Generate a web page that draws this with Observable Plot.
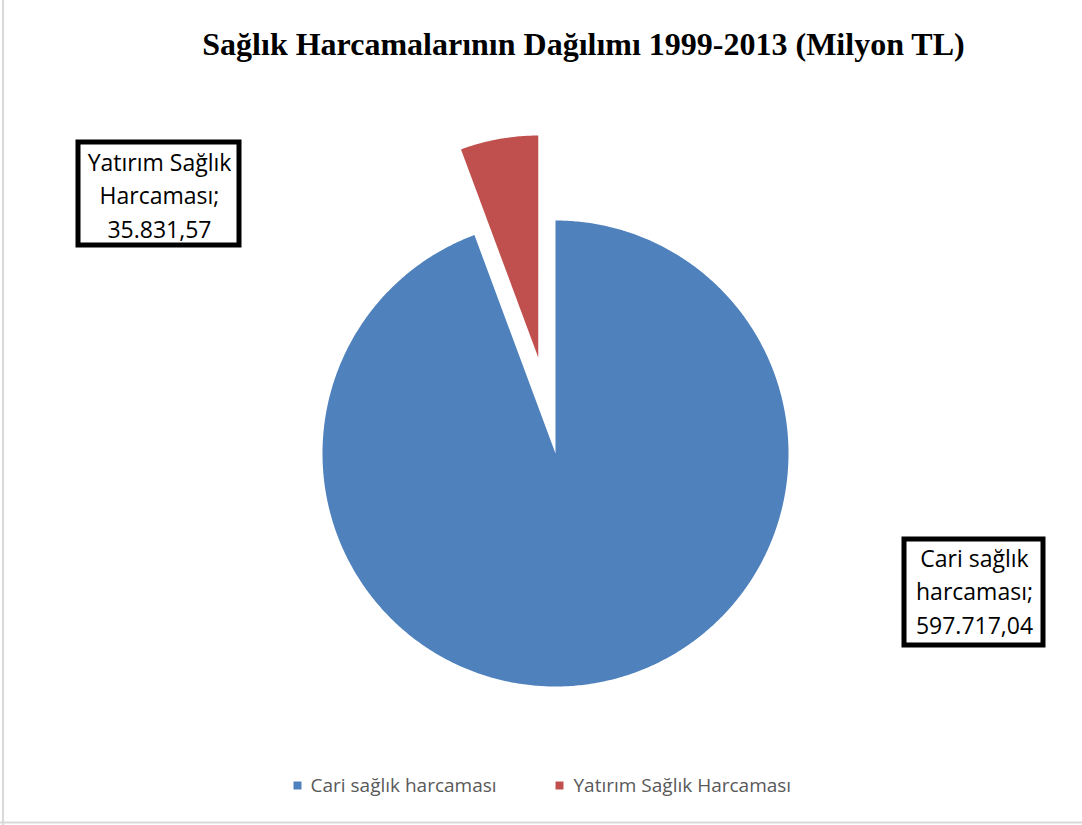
<!DOCTYPE html>
<html>
<head>
<meta charset="utf-8">
<script src="https://cdn.jsdelivr.net/npm/d3@7"></script>
<script src="https://cdn.jsdelivr.net/npm/@observablehq/plot@0.6"></script>
<style>
  html, body { margin: 0; padding: 0; background: #fff; }
  #chart svg { display: block; }
</style>
</head>
<body>
<div id="chart"></div>
<script>
// ---- data ----
const categories = ["Cari sağlık harcaması", "Yatırım Sağlık Harcaması"];
const values = [597717.04, 35831.57];
const labelNames = ["Cari sağlık\nharcaması;", "Yatırım Sağlık\nHarcaması;"];
const title = "Sağlık Harcamalarının Dağılımı 1999-2013 (Milyon TL)";

// ---- layout ----
const W = 1082, H = 825;
const cx = 555, cy = 453;
const radii = [233, 222];
const explode = [0, 97.5];
const colors = ["#4F81BD", "#C0504D"];

const trFormat = d3.formatLocale({decimal: ",", thousands: ".", grouping: [3], currency: ["", ""]}).format(",.2f");

const total = d3.sum(values);
const pie = [];
let a0 = 0;
values.forEach((v, i) => {
  const a1 = a0 + v / total * 2 * Math.PI;
  const mid = (a0 + a1) / 2;
  const ox = cx + explode[i] * Math.sin(mid);
  const oy = cy - explode[i] * Math.cos(mid);
  pie.push({cat: categories[i], x: ox, y: oy});
  const n = Math.max(2, Math.ceil((a1 - a0) / (Math.PI / 360)));
  for (let k = 0; k <= n; k++) {
    const a = a0 + (a1 - a0) * k / n;
    pie.push({cat: categories[i], x: ox + radii[i] * Math.sin(a), y: oy - radii[i] * Math.cos(a)});
  }
  pie.push({cat: categories[i], x: ox, y: oy});
  a0 = a1;
});

// data label boxes (placement like the original)
const boxes = [
  {cat: categories[0], x1: 904, x2: 1043, y1: 539, y2: 645, tx: 974, ty: 589, text: labelNames[0] + "\n" + trFormat(values[0])},
  {cat: categories[1], x1: 78, x2: 239, y1: 142, y2: 245, tx: 159, ty: 193, text: labelNames[1] + "\n" + trFormat(values[1])}
];

const legend = [
  {cat: categories[0], sx: 297, tx: 310},
  {cat: categories[1], sx: 559, tx: 573}
];
const legendY = 785;

const chart = Plot.plot({
  width: W,
  height: H,
  margin: 0,
  x: {type: "linear", domain: [0, W], range: [0, W], axis: null},
  y: {type: "linear", domain: [0, H], range: [0, H], axis: null},
  color: {domain: categories, range: colors},
  style: {background: "#fff"},
  marks: [
    Plot.ruleX([2.5], {stroke: "#d9d9d9", strokeWidth: 2}),
    Plot.ruleY([822], {stroke: "#d9d9d9", strokeWidth: 2}),
    Plot.text([title], {
      x: 583, y: 44, text: d => d,
      fontFamily: "Liberation Serif", fontWeight: "bold", fontSize: 32, fill: "#000"
    }),
    Plot.line(pie, {x: "x", y: "y", z: "cat", fill: "cat", stroke: null, curve: "linear"}),
    Plot.rect(boxes, {x1: "x1", x2: "x2", y1: "y1", y2: "y2", fill: "#fff", stroke: "#000", strokeWidth: 5}),
    Plot.text(boxes, {
      x: "tx", y: "ty", text: "text", fontFamily: "Open Sans", fontSize: 23,
      lineHeight: 1.45, fill: "#000"
    }),
    Plot.dot(legend, {x: "sx", y: () => legendY, fill: "cat", symbol: "square", r: 4.5, stroke: null}),
    Plot.text(legend, {
      x: "tx", y: () => legendY, text: "cat", textAnchor: "start",
      fontFamily: "Open Sans", fontSize: 19, fill: "#595959"
    })
  ]
});
document.getElementById("chart").appendChild(chart);
</script>
</body>
</html>
